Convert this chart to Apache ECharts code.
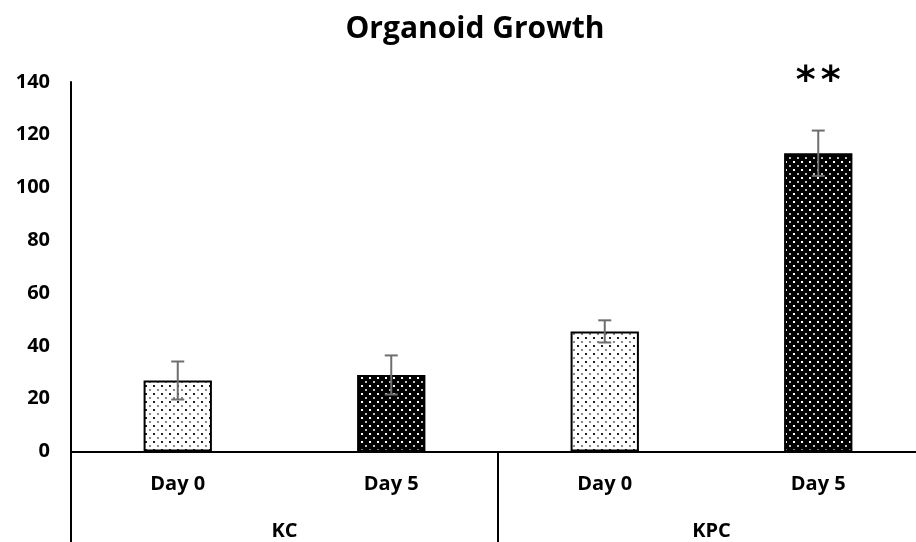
<!DOCTYPE html>
<html>
<head>
<meta charset="utf-8">
<script src="https://cdn.jsdelivr.net/npm/echarts@6/dist/echarts.min.js"></script>
<style>
html,body{margin:0;padding:0;background:#fff;}
#chart{width:916px;height:542px;}
</style>
</head>
<body>
<div id="chart"></div>
<script>
const categories = ['Day 0', 'Day 5', 'Day 0', 'Day 5'];
const groups = ['KC', 'KPC'];
const means = [26.9, 29.0, 45.5, 113.0];
const errors = [7.2, 7.4, 4.2, 8.6];
const significance = ['', '', '', '**'];
const dayKind = ['light', 'dark', 'light', 'dark'];
const yTicks = { min: 0, max: 140, interval: 20 };

function makeTile(bg, fg, fg2) {
  const c = document.createElement('canvas');
  c.width = 8; c.height = 8;
  const ctx = c.getContext('2d');
  ctx.fillStyle = bg; ctx.fillRect(0, 0, 8, 8);
  ctx.fillStyle = fg; ctx.fillRect(1, 1, 2, 2);
  ctx.fillStyle = fg2; ctx.fillRect(5, 5, 2, 2);
  return c;
}
const lightTile = makeTile('#ffffff', '#222222', '#888888');
const darkTile = makeTile('#000000', '#ffffff', '#bbbbbb');

const font = 'Open Sans';
const chart = echarts.init(document.getElementById('chart'));

const barData = means.map((v, i) => ({
  value: v,
  itemStyle: {
    color: { image: dayKind[i] === 'light' ? lightTile : darkTile, repeat: 'repeat' },
    borderColor: '#000',
    borderWidth: 2
  }
}));
const errData = means.map((v, i) => [i, v, errors[i]]);

chart.setOption({
  animation: false,
  backgroundColor: '#fff',
  title: {
    text: 'Organoid Growth',
    left: 470, top: 9, textAlign: 'center',
    textStyle: { fontFamily: font, fontWeight: 'bold', fontSize: 30, color: '#000' }
  },
  grid: { left: 71, width: 854, top: 82, bottom: 90.5, outerBoundsMode: 'none', containLabel: false },
  xAxis: [
    {
      type: 'category', data: categories, position: 'bottom',
      axisLine: { show: true, lineStyle: { color: '#000', width: 2 } },
      axisTick: { show: false },
      axisLabel: { margin: 23, fontFamily: font, fontWeight: 'bold', fontSize: 20, color: '#000' }
    },
    {
      type: 'category', data: groups, position: 'bottom',
      axisLine: { show: false },
      axisTick: { show: true, length: 92, alignWithLabel: false, lineStyle: { color: '#000', width: 2 } },
      axisLabel: { margin: 70, fontFamily: font, fontWeight: 'bold', fontSize: 20, color: '#000' }
    }
  ],
  yAxis: {
    type: 'value', min: yTicks.min, max: yTicks.max, interval: yTicks.interval,
    axisLine: { show: true, lineStyle: { color: '#000', width: 2 } },
    axisTick: { show: false },
    splitLine: { show: false },
    axisLabel: { margin: 21, fontFamily: font, fontWeight: 'bold', fontSize: 20, color: '#000' }
  },
  series: [
    {
      type: 'bar', data: barData, barWidth: '32%', xAxisIndex: 0
    },
    {
      type: 'custom', xAxisIndex: 0, data: errData, z: 10,
      renderItem: function (params, api) {
        const i = api.value(0), m = api.value(1), e = api.value(2);
        const top = api.coord([i, m + e]);
        const bot = api.coord([i, m - e]);
        const cap = 6.5;
        const style = { stroke: '#6e6e6e', lineWidth: 2 };
        const children = [
          { type: 'line', shape: { x1: top[0], y1: top[1], x2: bot[0], y2: bot[1] }, style },
          { type: 'line', shape: { x1: top[0] - cap, y1: top[1], x2: top[0] + cap, y2: top[1] }, style },
          { type: 'line', shape: { x1: bot[0] - cap, y1: bot[1], x2: bot[0] + cap, y2: bot[1] }, style }
        ];
        const sig = significance[params.dataIndex];
        if (sig) {
          const gap = 25;
          const n = sig.length;
          for (let k = 0; k < n; k++) {
            children.push({
              type: 'text',
              style: {
                text: sig[k], x: top[0] + (k - (n - 1) / 2) * gap, y: top[1] - 48,
                align: 'center', verticalAlign: 'middle',
                font: 'bold 38px "DejaVu Sans"', fill: '#000'
              }
            });
          }
        }
        return { type: 'group', children };
      }
    }
  ]
});
</script>
</body>
</html>
